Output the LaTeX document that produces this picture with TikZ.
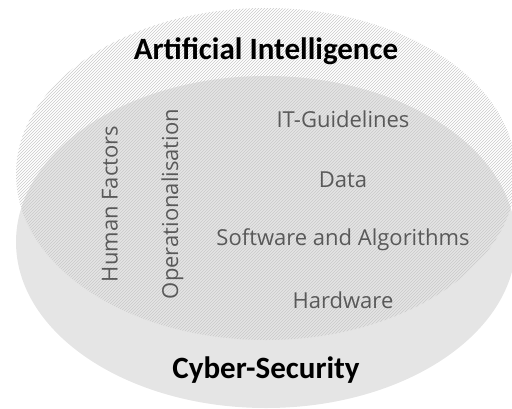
\documentclass[tikz,border=0pt]{standalone}
\usepackage{fontspec}
\setmainfont{Open Sans}
\newfontfamily\calibri{Carlito}
\usepackage{tikz}
\usetikzlibrary{patterns}
\definecolor{csgrey}{RGB}{229,229,229}
\definecolor{txtgrey}{RGB}{89,89,89}

\begin{document}
\begin{tikzpicture}[x=1pt,y=-1pt,node distance=60.5pt,
        area/.style={font=\calibri\bfseries\fontsize{31}{36}\selectfont},
        topic/.style={text=txtgrey,font=\fontsize{22}{26}\selectfont},
        side/.style={topic,rotate=90}]

  \useasboundingbox (0,0) rectangle (512,408);

  \fill[csgrey] (266,242) ellipse [x radius=250,y radius=166];
  \fill[pattern=north east lines,pattern color=gray!42]
        (266,174) ellipse [x radius=250,y radius=166];

  \node[area] (ai) at (266,51) {Artificial Intelligence};
  \node[area] (cs) at (266,370) {Cyber-Security};

  \node[topic] (it) at (343,119) {IT-Guidelines};
  \node[topic] (data) [below of=it] {Data};
  \node[topic] (sw) [below of=data] {Software and Algorithms};
  \node[topic] (hw) [below of=sw] {Hardware};

  \node[side] (hf) at (110,204) {Human Factors};
  \node[side] (op) at (172.5,204) {Operationalisation};

\end{tikzpicture}
\end{document}
